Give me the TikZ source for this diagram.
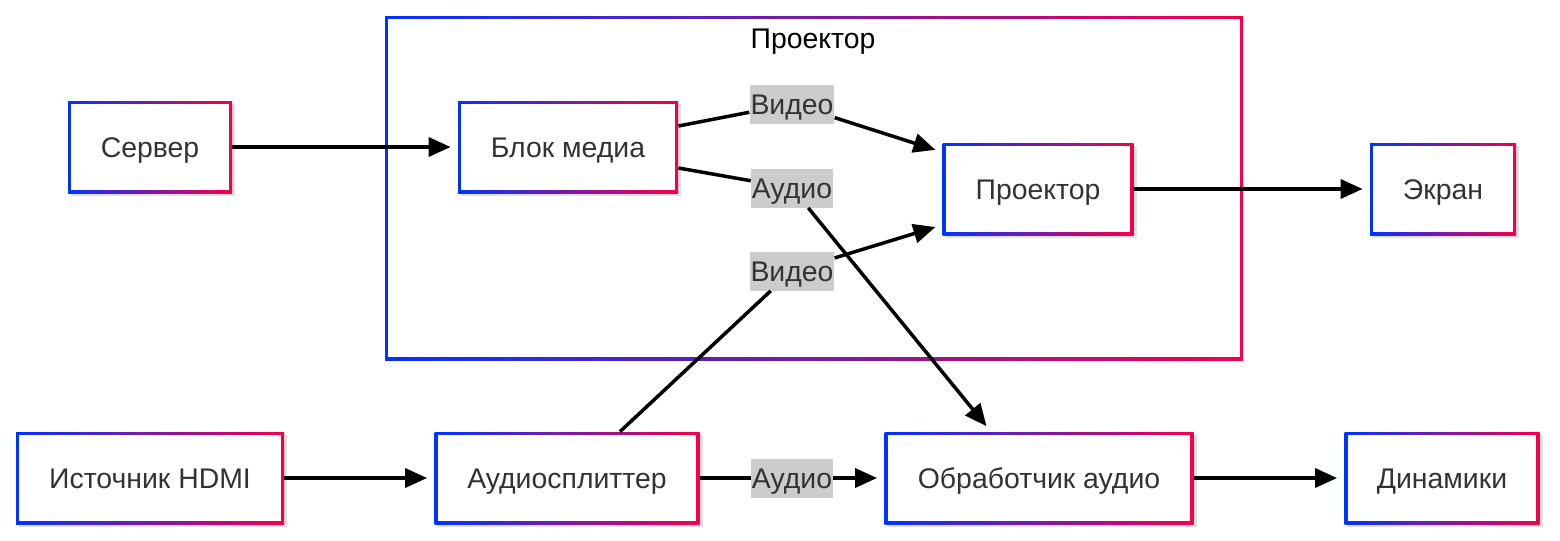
\documentclass[tikz,border=0pt]{standalone}
\usepackage{fontspec}
\setmainfont{Liberation Sans}
\usetikzlibrary{arrows.meta, shadows}

\definecolor{gblue}{HTML}{0033FF}
\definecolor{gred}{HTML}{F5004A}
\definecolor{txt}{HTML}{333333}
\definecolor{lblgray}{HTML}{CCCCCC}

\tikzset{
    gradbox/.style={rectangle, inner sep=0pt, minimum height=46pt,
        left color=gblue, right color=gred, text=txt,
        font=\fontsize{14.2}{17}\selectfont, text height=10.2pt, text depth=0pt,
        path picture={\fill[white]
            ([shift={(1.6pt,1.6pt)}]path picture bounding box.south west) rectangle
            ([shift={(-1.6pt,-1.6pt)}]path picture bounding box.north east);}},
    boxshadow/.style={drop shadow={shadow xshift=1.5pt, shadow yshift=-1.5pt, fill=black, opacity=0.12}},
    edgelbl/.style={fill=lblgray, text=txt, inner xsep=0.4pt, inner ysep=0pt,
        minimum height=19.5pt, font=\fontsize{14.2}{17}\selectfont,
        text height=10.2pt, text depth=0pt},
    link/.style={line width=1.75pt, shorten >=3.5pt, -{Triangle[length=11pt,width=9.5pt]}},
    plain/.style={line width=1.75pt}
}

\begin{document}
\begin{tikzpicture}[x=0.5pt, y=-0.5pt]
    \useasboundingbox (0,0) rectangle (1560,541);

    % Projector group frame and its title
    \node[gradbox, minimum width=429pt, minimum height=172pt] (grp) at (814,188) {};
    \node[font=\fontsize{14.2}{17}\selectfont, text height=10.2pt, text depth=0pt] (grptitle) at (813,38) {Проектор};

    % Boxes, upper row
    \node[gradbox, boxshadow, minimum width=82pt] (srv) at (150,147) {Сервер};
    \node[gradbox, boxshadow, minimum width=110pt] (media) at (568,147) {Блок медиа};
    \node[gradbox, boxshadow, minimum width=95.5pt] (proj) at (1038,189) {Проектор};
    \node[gradbox, boxshadow, minimum width=73pt] (screen) at (1443,189) {Экран};

    % Boxes, lower row
    \node[gradbox, boxshadow, minimum width=134pt] (hdmi) at (150,478) {Источник HDMI};
    \node[gradbox, boxshadow, minimum width=132.5pt] (split) at (567,478) {Аудиосплиттер};
    \node[gradbox, boxshadow, minimum width=154.5pt] (dsp) at (1039,478) {Обработчик аудио};
    \node[gradbox, boxshadow, minimum width=97.5pt] (spk) at (1442,478) {Динамики};

    % Edge labels
    \node[edgelbl] (lvid1) at (792,104) {Видео};
    \node[edgelbl] (laud1) at (792,188) {Аудио};
    \node[edgelbl] (lvid2) at (792,271) {Видео};
    \node[edgelbl] (laud2) at (792,478) {Аудио};

    % Connections
    \draw[link] (srv) -- (media);
    \draw[plain] ([yshift=10.5pt]media.east) -- (lvid1);
    \draw[link] (lvid1) -- ([yshift=18.5pt]proj.west);
    \draw[plain] ([yshift=-10.5pt]media.east) -- (laud1);
    \draw[link] (laud1) -- ([xshift=-24pt]dsp.north);
    \draw[plain] ([xshift=26.5pt]split.north) -- (lvid2);
    \draw[link] (lvid2) -- ([yshift=-18pt]proj.west);
    \draw[link] (proj) -- (screen);
    \draw[link] (hdmi) -- (split);
    \draw[plain] (split) -- (laud2);
    \draw[link] (laud2) -- (dsp);
    \draw[link] (dsp) -- (spk);
\end{tikzpicture}
\end{document}
